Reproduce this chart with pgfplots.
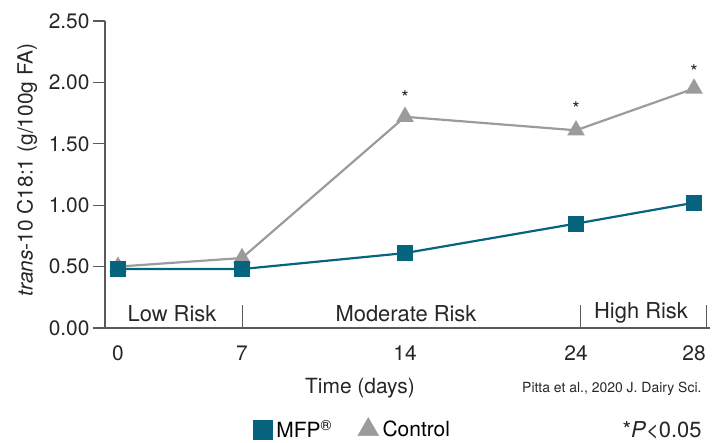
\documentclass[border=0pt]{standalone}
\usepackage{fontspec}
\setmainfont{TeX Gyre Heros}
\usepackage{pgfplots}
\pgfplotsset{compat=1.18}
\definecolor{mfp}{HTML}{07647F}
\definecolor{ctrl}{HTML}{9B9B9E}
\definecolor{axgray}{HTML}{5A5A5A}
\begin{document}
\begin{tikzpicture}[x=1bp,y=1bp]
\useasboundingbox (-105bp,-115bp) rectangle (617bp,328bp);
\begin{axis}[
  at={(0,0)}, anchor=south west,
  scale only axis, width=605bp, height=307bp,
  xmin=105, xmax=710, ymin=0, ymax=2.5,
  axis lines=left, axis line style={axgray, line width=1.2pt, -},
  xtick={118,242,405,576,694}, xticklabels={0,7,14,24,28},
  ytick={0,0.5,1,1.5,2,2.5},
  yticklabel style={/pgf/number format/.cd, fixed, fixed zerofill, precision=2},
  /pgf/number format/assume math mode=true,
  tick label style={font=\fontsize{21}{23}\selectfont, text=black!85},
  x tick label style={yshift=-2bp},
  major x tick style={draw=none},
  major y tick style={axgray, line width=1.2pt},
  tick align=outside, major tick length=12bp,
  clip=false,
  legend style={at={(0.245,-0.33)}, anchor=west, draw=none, fill=none,
    font=\fontsize{21}{23}\selectfont, legend columns=2, inner sep=0pt,
    /tikz/every odd column/.append style={column sep=2bp},
    /tikz/every even column/.append style={column sep=24bp}},
]
\addlegendimage{only marks, mark=square*, mark size=9.5bp, color=mfp}
\addlegendentry{MFP\textsuperscript{®}}
\addlegendimage{only marks, mark=triangle*, mark size=12bp, color=ctrl}
\addlegendentry{Control}
% Control
\addplot[ctrl, line width=2.2pt, mark=triangle*, mark size=8bp, mark options={solid}]
 coordinates {(118,0.50) (242,0.57) (405,1.72) (576,1.61) (694,1.95)};
% MFP
\addplot[mfp, line width=2.2pt, mark=square*, mark size=7bp]
 coordinates {(118,0.48) (242,0.48) (405,0.61) (576,0.85) (694,1.02)};
% significance stars
\addplot[only marks, mark=none, nodes near coords={*}, nodes near coords align={center},
  every node near coord/.append style={font=\fontsize{19}{21}\selectfont, text=black!85}]
 coordinates {(405,1.88) (576,1.79) (694,2.09)};
% risk separators
\draw[axgray, line width=0.8pt] (axis cs:242,0) -- (axis cs:242,0.19);
\draw[axgray, line width=0.8pt] (axis cs:580,0) -- (axis cs:580,0.19);
\draw[axgray, line width=0.8pt] (axis cs:706,0) -- (axis cs:706,0.19);
\node[font=\fontsize{22}{24}\selectfont, text=black!85] at (axis cs:172,0.12) {Low Risk};
\node[font=\fontsize{22}{24}\selectfont, text=black!85] at (axis cs:406,0.12) {Moderate Risk};
\node[font=\fontsize{22}{24}\selectfont, text=black!85] at (axis cs:641,0.12) {High Risk};
\end{axis}
\node[rotate=90, font=\fontsize{21}{23}\selectfont, text=black!85] at (-78bp,158bp) {\textit{trans}-10 C18:1 (g/100g FA)};
\node[font=\fontsize{21}{23}\selectfont, text=black!85] at (255bp,-60bp) {Time (days)};
\node[anchor=east, font=\fontsize{14}{16}\selectfont, text=black!85] at (600bp,-61bp) {Pitta et al., 2020 J. Dairy Sci.};
\node[anchor=east, font=\fontsize{22}{24}\selectfont, text=black!85] at (600bp,-102bp) {*\textit{P}<0.05};
\end{tikzpicture}
\end{document}
